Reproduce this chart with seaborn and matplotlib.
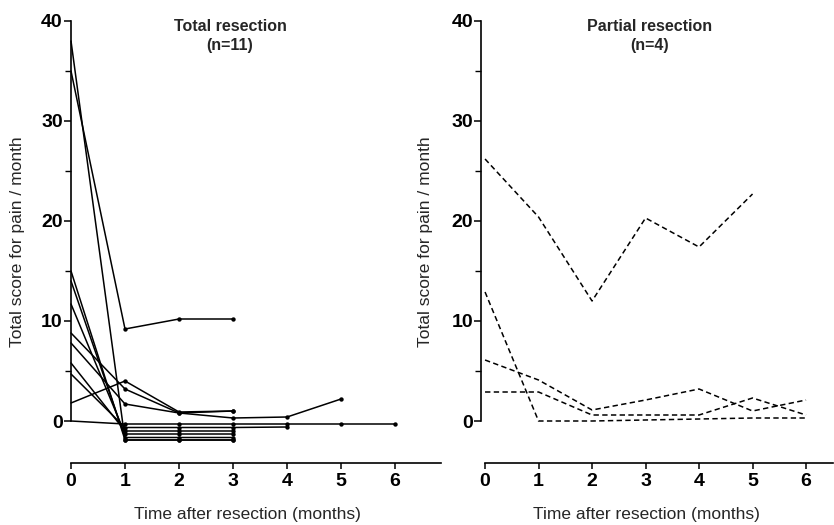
import numpy as np
import pandas as pd
import matplotlib
matplotlib.use("Agg")
import matplotlib.pyplot as plt
import seaborn as sns

# ---------------- data ----------------
months = [0, 1, 2, 3, 4, 5, 6]

# Total resection (n=11) -- zero scores are drawn slightly staggered below 0
total_p1 = [38.0, -1.9, -1.9, -1.9]
total_p2 = [35.0, 9.2, 10.2, 10.2]
total_p3 = [15.0, -1.9, -1.9, -1.9]
total_p4 = [14.0, -1.65, -1.65, -1.65]
total_p5 = [11.7, -1.3, -1.3, -1.3]
total_p6 = [8.8, 3.2, 0.8, 0.3, 0.4, 2.2]
total_p7 = [7.8, 1.7, 0.8, 1.0]
total_p8 = [5.8, -1.0, -1.0, -1.0]
total_p9 = [4.7, -0.65, -0.65, -0.65, -0.6]
total_p10 = [1.8, 4.0, 0.9, 1.0]
total_p11 = [0.0, -0.3, -0.3, -0.3, -0.3, -0.3, -0.3]
total_series = [total_p1, total_p2, total_p3, total_p4, total_p5, total_p6,
                total_p7, total_p8, total_p9, total_p10, total_p11]

# Partial resection (n=4)
partial_p1 = [26.2, 20.4, 12.0, 20.3, 17.4, 22.7]
partial_p2 = [12.9, 0.0, 0.0, 0.1, 0.2, 0.3, 0.3]
partial_p3 = [6.1, 4.1, 1.1, 2.1, 3.2, 1.0, 2.1]
partial_p4 = [2.9, 2.9, 0.6, 0.6, 0.6, 2.3, 0.6]
partial_series = [partial_p1, partial_p2, partial_p3, partial_p4]

y_ticks = [0, 10, 20, 30, 40]
y_minor = [5, 15, 25, 35]
x_ticks = months

title_total = "Total resection\n(n=11)"
title_partial = "Partial resection\n(n=4)"
ylabel = "Total score for pain / month"
xlabel = "Time after resection (months)"


def to_long(series):
    rows = []
    for pid, vals in enumerate(series):
        for m, v in zip(months, vals):
            rows.append({"patient": pid, "month": m, "score": v})
    return pd.DataFrame(rows)


df_total = to_long(total_series)
df_partial = to_long(partial_series)

# ---------------- style ----------------
sns.set_style("ticks")
plt.rcParams["font.family"] = ["Liberation Sans", "DejaVu Sans"]

W, H = 834, 525
fig = plt.figure(figsize=(W / 100, H / 100), dpi=100)


def px_axes(x0, x1, y_top, y_bot):
    return fig.add_axes([x0 / W, 1 - y_bot / H, (x1 - x0) / W, (y_bot - y_top) / H])


ax1 = px_axes(68.3, 441.0, 21, 463)
ax2 = px_axes(481.3, 832.8, 21, 463)

sns.lineplot(data=df_total, x="month", y="score", units="patient",
             estimator=None, color="black", lw=1.1, ax=ax1, legend=False)
sns.scatterplot(data=df_total[df_total["month"] > 0], x="month", y="score",
                color="black", s=10, linewidth=0, ax=ax1, legend=False)
sns.lineplot(data=df_partial, x="month", y="score", units="patient",
             estimator=None, color="black", lw=1.1,
             linestyle=(0, (3.5, 2.2)), ax=ax2, legend=False)

ax1.set_xlim(-0.05, 6.85)
ax2.set_xlim(-0.07, 6.5)
ax1.spines["left"].set_position(("data", 0))

for ax, title, tx, ylx, xlx in [(ax1, title_total, 0.434, -0.116, 0.4795),
                                 (ax2, title_partial, 0.48, -0.137, 0.471)]:
    ax.set_ylim(-4.2, 40)
    ax.set_yticks(y_ticks)
    ax.set_yticks(y_minor, minor=True)
    ax.set_xticks(x_ticks)
    ax.set_xticklabels([str(t) for t in x_ticks], fontsize=14, fontweight="bold")
    ax.set_yticklabels([str(t) for t in y_ticks], fontsize=14, fontweight="bold")
    ax.tick_params(axis="y", which="major", direction="out", length=5, width=1.1,
                   pad=1, colors="black")
    ax.tick_params(axis="y", which="minor", direction="out", length=4, width=1.0,
                   colors="black")
    ax.tick_params(axis="x", which="major", direction="out", length=4, width=1.1,
                   pad=3, colors="black")
    ax.spines["top"].set_visible(False)
    ax.spines["right"].set_visible(False)
    for s in ("left", "bottom"):
        ax.spines[s].set_linewidth(1.2)
        ax.spines[s].set_color("black")
    ax.spines["left"].set_bounds(0, 40)
    ax.set_ylabel(ylabel, fontsize=12.5)
    ax.yaxis.set_label_coords(ylx, 0.5)
    ax.set_xlabel(xlabel, fontsize=12.5)
    ax.xaxis.set_label_coords(xlx, -0.0995)
    ax.text(tx, 1.004, title, transform=ax.transAxes, ha="center", va="top",
            fontsize=11.5, fontweight="bold", linespacing=1.3)
    ax.patch.set_alpha(0)

ax1.spines["bottom"].set_bounds(0, 6.85)
ax2.spines["bottom"].set_bounds(0, 6.5)

fig.savefig("out.png", dpi=100)
